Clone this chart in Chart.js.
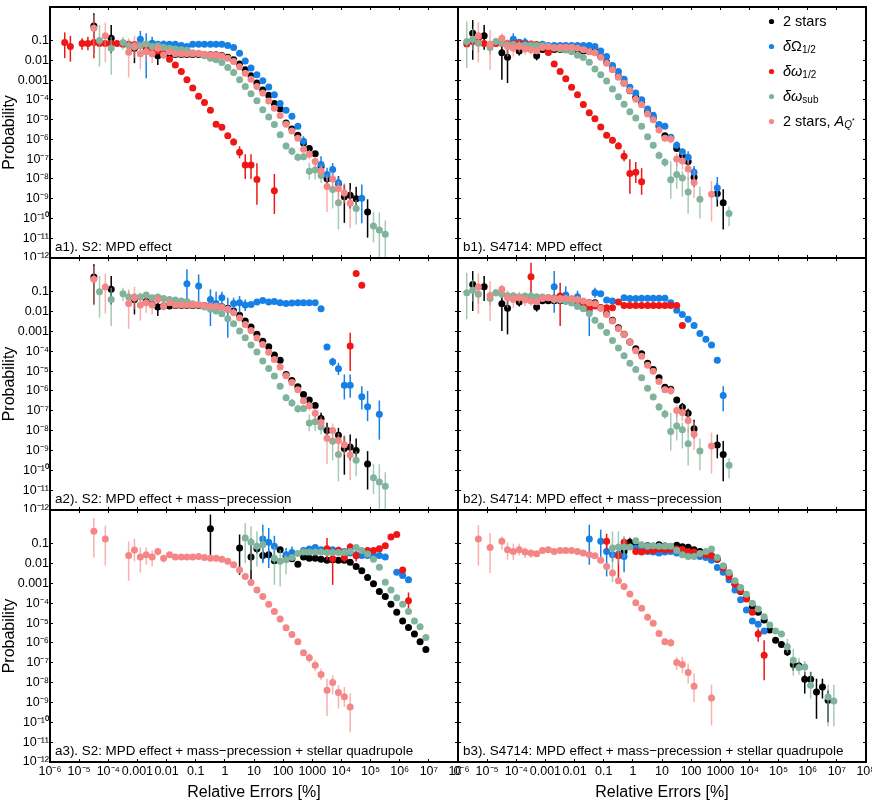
<!DOCTYPE html>
<html><head><meta charset="utf-8">
<script src="https://cdn.jsdelivr.net/npm/chart.js@4/dist/chart.umd.min.js"></script>
<style>
html,body{margin:0;padding:0;background:#fff;}
#wrap{position:relative;width:872px;height:802px;overflow:hidden;background:#fff;}
#wrap canvas{position:absolute;}
</style></head><body><div id="wrap"></div>
<script>
// ---------- axis ticks ----------
const X_TICKS = [1e-6,1e-5,1e-4,1e-3,0.01,0.1,1,10,100,1000,1e4,1e5,1e6,1e7,1e8];
const X_LABELS = ['10⁻⁶','10⁻⁵','10⁻⁴','0.001','0.01','0.1','1','10','100','1000','10⁴','10⁵','10⁶','10⁷','10⁸'];
const Y_TICKS = [1e-12,1e-11,1e-10,1e-9,1e-8,1e-7,1e-6,1e-5,1e-4,1e-3,0.01,0.1];
const Y_LABELS = ['10⁻¹²','10⁻¹¹','10⁻¹⁰','10⁻⁹','10⁻⁸','10⁻⁷','10⁻⁶','10⁻⁵','10⁻⁴','0.001','0.01','0.1'];
const SERIES_NAMES = ['2 stars','δΩ1/2','δω1/2','δωsub','2 stars, AQ*'];

// ---------- data: [x, y, errLow, errHigh] ----------
const pinkA = [
[3.2e-5,0.42,0.0204,2.0],[7.9e-5,0.174,7.9e-3,0.81],[5.0e-4,0.0257,1.35e-3,0.132],[7.9e-4,0.048,0.0129,0.178],
[1.26e-3,0.0214,3.5e-3,0.065],[2.0e-3,0.0275,8.7e-3,0.065],[3.2e-3,0.0214,7.1e-3,0.045],[5.0e-3,0.041,0.0257,0.060],
[7.9e-3,0.0186,0.0112,0.027],[0.0126,0.0275],[0.02,0.0214],[0.032,0.0214],[0.05,0.0214],[0.079,0.0214],[0.126,0.0229],
[0.2,0.0204],[0.32,0.0186],[0.5,0.0186],[0.79,0.0166],[1.26,0.0129],[2.0,8.7e-3],[3.2,4.8e-3],[5.0,2.24e-3],[7.9,1.1e-3],
[12.6,4.7e-4],[20,2.2e-4],[32,8.9e-5],[50,3.8e-5],[79,1.62e-5],[126,5.9e-6],[200,2.7e-6],[320,1.15e-6],
[500,3.2e-7,2.24e-7,4.4e-7],[790,1.78e-7,1.02e-7,2.95e-7],[1260,7.6e-8,3.9e-8,1.35e-7],[2000,2.6e-8,1.32e-8,5.1e-8],
[3200,4.1e-9,2.1e-10,1.58e-8],[5000,1.0e-8,2.6e-9,2.3e-8],[7900,3.2e-9,4.9e-10,7.4e-9],[1.26e4,1.95e-9,5.9e-10,6.0e-9],
[2.0e4,5.9e-10,3.2e-11,2.8e-9]
];
const blackA = [
[3.2e-5,0.55,0.023,2.4],[1.26e-4,0.132,0.023,0.62],[7.9e-4,0.041,7.2e-3,0.079],[2.0e-3,0.032,0.02,0.045],[3.2e-3,0.023],
[5.0e-3,0.017,5.9e-3,0.034],[7.9e-3,0.019],[0.0126,0.019],[0.02,0.02],[0.032,0.02],[0.05,0.02],[0.079,0.02],[0.126,0.02],
[0.2,0.02],[0.32,0.019],[0.5,0.019],[0.79,0.0174],[1.26,0.0145],[2.0,0.0107],[3.2,6.5e-3],[5.0,3.3e-3],[7.9,1.66e-3],
[12.6,7.1e-4],[20,3.2e-4],[32,1.7e-4],[50,6.5e-5],[79,3.5e-5],[126,6.8e-6],[200,3.4e-6],[320,1.62e-6],[500,6.6e-7],
[790,3.5e-7],[1260,1.86e-7],[2000,4.1e-8,2.5e-8,7.9e-8],[3200,1.02e-8,5.4e-9,2.5e-8],[7900,5.9e-9,2.45e-9,1.38e-8],
[1.26e4,1.26e-9,6.0e-11,5.2e-9],[2.0e4,1.51e-9,3.2e-10,6.3e-9],[3.2e4,1.0e-9,2.5e-10,4.0e-9],[7.9e4,2.1e-10,1.07e-11,9.3e-10]
];
const greenA = [
[5.0e-5,0.1,4.9e-3,0.62],[1.26e-4,0.041,1.86e-3,0.158],[3.2e-4,0.079,0.034,0.158],[5.0e-4,0.054,0.028,0.107],[7.9e-4,0.054],
[1.26e-3,0.054,0.034,0.089],[2.0e-3,0.068],[3.2e-3,0.05],[5.0e-3,0.054],[7.9e-3,0.046],[0.0126,0.041],[0.02,0.038],[0.032,0.034],
[0.05,0.032],[0.079,0.0245],[0.126,0.0214],[0.2,0.017],[0.32,0.0129],[0.5,0.0107],[0.79,7.8e-3],[1.26,4.4e-3],[2.0,2.45e-3],
[3.2,1.05e-3],[5.0,4.8e-4],[7.9,2.04e-4],[12.6,9.1e-5],[20,3.2e-5],[32,1.35e-5],[50,5.6e-6],[79,1.74e-6],
[126,4.6e-7,3.2e-7,7.1e-7],[200,2.5e-7,1.58e-7,4.0e-7],[320,1.26e-7,7.9e-8,2.0e-7],[500,1.32e-7,8.9e-8,2.0e-7],
[790,2.45e-8,9.3e-9,6.6e-8],[1260,2.8e-8,9.3e-9,7.1e-8],[2000,1.51e-8,6.3e-9,3.5e-8],[5000,2.95e-9,3.2e-10,1.41e-8],
[7900,6.3e-10,2.8e-11,4.4e-9],[3.2e4,3.2e-10,5.0e-11,8.9e-10],[1.26e5,4.2e-11,6.3e-12,2.1e-10],[2.0e5,2.6e-11,3.2e-13,2.0e-10],
[3.2e5,1.58e-11,1e-13,7.9e-11]
];
const blueA1 = [
[1.26e-3,0.117,0.034,0.31],[2.0e-3,0.06,1.26e-3,0.234],[3.2e-3,0.074,0.05,0.158],[5.0e-3,0.066],[7.9e-3,0.066,0.045,0.1],
[0.0126,0.066],[0.02,0.066],[0.032,0.056],[0.05,0.05],[0.079,0.066],[0.126,0.066],[0.2,0.066],[0.32,0.066],[0.5,0.066],
[0.79,0.066],[1.26,0.056],[2.0,0.045],[3.2,0.0229],[5.0,9.3e-3],[7.9,4.1e-3],[12.6,1.86e-3],[20,9.3e-4],[32,4.5e-4],
[50,1.82e-4],[79,6.5e-5],[126,2.95e-5],[200,1.48e-5],[320,4.6e-6],[500,8.1e-7,4.5e-7,1.45e-6],[2000,5.4e-8,2.0e-8,1.41e-7],
[3200,1.7e-8,7.9e-9,3.7e-8],[5000,3.0e-8,1.41e-8,6.3e-8],[7900,6.5e-9,3.2e-9,1.26e-8],[5.0e4,1.05e-9,5.8e-11,5.2e-9]
];
const redA1 = [
[3.2e-6,0.079,0.0129,0.26],[5.0e-6,0.05,8.7e-3,0.174],[1.26e-5,0.071,0.034,0.132],[2.0e-5,0.071,0.032,0.158],
[3.2e-5,0.079,0.0129,0.35],[5.0e-5,0.071],[7.9e-5,0.071],[1.26e-4,0.071],[2.0e-4,0.071],[3.2e-4,0.066],[5.0e-4,0.066],
[7.9e-4,0.063],[1.26e-3,0.056],[2.0e-3,0.05],[3.2e-3,0.04],[5.0e-3,0.03],[7.9e-3,0.0224],[0.0126,0.0115],[0.02,5.9e-3],
[0.032,2.75e-3],[0.05,1.05e-3],[0.079,4.0e-4],[0.126,1.51e-4],[0.2,7.4e-5],[0.32,2.95e-5],[0.5,5.8e-6],[0.79,4.1e-6],
[1.26,1.55e-6],[2.0,7.4e-7,5.0e-7,1.12e-6],[3.2,2.24e-7,1.12e-7,4.5e-7],[5.0,5.0e-8,1.0e-8,1.78e-7],[7.9,5.0e-8,1.0e-8,1.78e-7],
[12.6,9.3e-9,5.0e-10,6.3e-8],[50,2.5e-9,1.7e-10,1.78e-8]
];
const blueA2 = [
[0.05,0.25,0.041,1.35],[0.126,0.195,0.034,0.74],[0.32,0.041,1.86e-3,0.132],[0.5,0.0257,0.01,0.1],[0.79,0.05,8.5e-3,0.1],
[1.26,0.0129,4.8e-4,0.05],[2.0,0.0257,7.2e-3,0.05],[3.2,0.028,8.7e-3,0.06],[5.0,0.0214,0.0107,0.041],[7.9,0.0229],
[12.6,0.030],[20,0.036],[32,0.030],[50,0.032],[79,0.028],[126,0.0257],[200,0.027],[320,0.028],[500,0.028],[790,0.028],
[1260,0.028],[2000,0.0138],[3200,1.62e-4],[5000,2.95e-5,1.78e-5,4.7e-5],[7900,1.32e-5,6.3e-6,2.6e-5],
[1.26e4,1.95e-6,3.7e-7,6.8e-6],[2.0e4,1.95e-6,4.5e-7,6.8e-6],[5.0e4,5.1e-7,1.17e-7,1.74e-6],[7.9e4,1.58e-7,3.0e-8,1e-6],
[2.0e5,6.6e-8,3.5e-9,3.3e-7]
];
const redA2 = [[2.0e4,1.82e-4,1e-5,8.5e-4],[3.2e4,0.83],[5.0e4,0.21]];
const blackA3 = [
[0.32,0.575,0.0275,2.95],[3.2,0.06,2.7e-3,0.29],[7.9,0.0214,1.23e-3,0.19],[12.6,0.056,0.032,0.112],[20,0.0257,0.0126,0.05],
[32,0.0275,0.0158,0.045],[50,0.0138,0.01,0.02],[79,0.05],[126,0.0229],[200,0.0174],[320,9.3e-3],[500,0.0214],[790,0.0186],
[1260,0.0186],[2000,0.0166],[3200,0.0145],[5000,0.0155],[7900,0.0145],[1.26e4,0.0145],[2.0e4,0.0115],[3.2e4,7.1e-3],
[5.0e4,4.3e-3],[7.9e4,2.0e-3],[1.26e5,9.5e-4],[2.0e5,3.9e-4],[3.2e5,2.2e-4],[5.0e5,8.9e-5],[7.9e5,3.5e-5],[1.26e6,1.26e-5],
[2.0e6,6.0e-6],[3.2e6,2.8e-6],[5.0e6,1.15e-6],[7.9e6,4.7e-7]
];
const blueA3 = [
[20,0.174,0.0105,0.91],[32,0.117,5.9e-3,0.62],[50,0.074,0.025,0.25],[126,0.0275,0.0155,0.06],[200,0.036,0.0186,0.072],
[500,0.045],[790,0.054],[1260,0.065],[2000,0.05],[3200,0.05],[5000,0.05],[7900,0.046],[1.26e4,0.041],[2.0e4,0.034],
[3.2e4,0.0275],[5.0e4,0.0257],[7.9e4,0.0257],[1.26e5,0.0257],[2.0e5,0.0257],[3.2e5,0.0214],[7.9e5,3.7e-3],[1.26e6,2.5e-3],
[2.0e6,1.51e-3]
];
const redA3 = [
[3200,0.056,0.0155,0.195],[5000,0.0174,8.5e-4,0.05],[7900,0.046,0.0275,0.072],[1.26e4,0.0204,0.0117,0.034],
[2.0e4,0.068,0.041,0.107],[3.2e4,0.0245,0.0126,0.041],[7.9e4,0.046],[1.26e5,0.046],[2.0e5,0.056],[3.2e5,0.079],[5.0e5,0.22],
[7.9e5,0.29],[1.26e6,4.8e-3,3.5e-3,6.3e-3],[2.0e6,1.32e-4,5.6e-5,3.5e-4]
];
const greenA3 = [
[5.0,0.195,0.0105,1.12],[7.9,0.12,4.8e-3,0.76],[12.6,0.074,7.1e-3,0.42],[20,0.089,0.02,0.42],[50,0.0186,8.5e-4,0.072],
[79,0.0129,6.9e-4,0.05],[126,0.0155,2.8e-3,0.028],[200,0.0204],[320,0.032],[500,0.038],[790,0.038],[1260,0.038],[2000,0.038],
[3200,0.036],[5000,0.036],[7900,0.036],[1.26e4,0.036],[2.0e4,0.041],[3.2e4,0.065],[5.0e4,0.045],[7.9e4,0.030],[1.26e5,0.0166],
[2.0e5,6.6e-3],[3.2e5,1.15e-3],[5.0e5,4.7e-4],[7.9e5,1.9e-4],[1.26e6,8.9e-5],[2.0e6,3.8e-5],[3.2e6,1.26e-5],[5.0e6,6.6e-6],
[7.9e6,1.9e-6]
];
const pinkB = [
[5.0e-6,0.174,7.8e-3,0.85],[1.26e-5,0.065,3.3e-3,0.35],[3.2e-5,0.132,0.05,0.234],[5.0e-5,0.05,0.0155,0.117],
[7.9e-5,0.041,0.0155,0.1],[1.26e-4,0.05,0.0257,0.1],[2.0e-4,0.038,0.019,0.065],[3.2e-4,0.034,0.019,0.05],[5.0e-4,0.031],
[7.9e-4,0.045],[1.26e-3,0.05],[2.0e-3,0.041],[3.2e-3,0.046],[5.0e-3,0.046],[7.9e-3,0.046],[0.0126,0.041],[0.02,0.034],
[0.032,0.0275],[0.05,0.0245],[0.079,0.0145],[0.126,7.1e-3],[0.2,3.3e-3],[0.32,1.38e-3],[0.5,6.9e-4],[0.79,2.95e-4],
[1.26,1.07e-4],[2.0,5.6e-5],[3.2,1.95e-5],[5.0,9.8e-6],[7.9,3.0e-6],[12.6,1.15e-6,7.9e-7,1.66e-6],[20,1.02e-6,6.3e-7,1.66e-6],
[32,1.02e-7,4.4e-8,2.0e-7],[50,8.1e-8,3.0e-8,2.0e-7],[79,3.2e-8,9.1e-9,9.1e-8],[126,6.6e-9,1.07e-9,2.9e-8],
[500,1.7e-9,6.9e-11,7.9e-9]
];
const blackB = [
[3.2e-6,0.234,0.0107,1.1],[7.9e-6,0.178,0.034,0.62],[3.2e-5,0.0245,1.05e-3,0.158],[5.0e-5,0.0145,7.1e-4,0.089],
[1.26e-4,0.030,0.0178,0.05],[3.2e-4,0.04],[5.0e-4,0.017,0.01,0.028],[7.9e-4,0.035],[1.26e-3,0.035],[2.0e-3,0.035],
[3.2e-3,0.035],[5.0e-3,0.034],[7.9e-3,0.032],[0.0126,0.032],[0.02,0.030],[0.032,0.028],[0.05,0.028],[0.079,0.0155],
[0.126,7.9e-3],[0.2,3.7e-3],[0.32,1.51e-3],[0.5,7.1e-4],[0.79,2.9e-4],[1.26,1.35e-4],[2.0,7.4e-5],[3.2,2.45e-5],[5.0,1.2e-5],
[7.9,4.6e-6],[12.6,1.55e-6],[20,1.2e-6],[32,3.5e-7,2.5e-7,5.0e-7],[50,1.51e-7,8.9e-8,2.5e-7],[79,7.6e-8,4.0e-8,1.26e-7],
[126,1.23e-8,4.0e-9,3.5e-8],[790,1.86e-9,4.0e-10,6.3e-9],[1260,6.3e-10,2.8e-11,3.0e-9]
];
const greenB = [
[2.0e-6,0.089,4.1e-3,0.91],[3.2e-6,0.117,0.032,0.4],[5.0e-6,0.074,0.025,0.178],[1.26e-5,0.045,0.02,0.1],[2.0e-5,0.089,0.056,0.141],
[3.2e-5,0.074],[5.0e-5,0.063],[7.9e-5,0.063],[1.26e-4,0.056],[2.0e-4,0.06],[3.2e-4,0.06],[5.0e-4,0.056],[7.9e-4,0.054],
[1.26e-3,0.05],[2.0e-3,0.045],[3.2e-3,0.038],[5.0e-3,0.034],[7.9e-3,0.027],[0.0126,0.018],[0.02,0.0138],[0.032,7.9e-3],
[0.05,3.7e-3],[0.079,1.86e-3],[0.126,8.9e-4],[0.2,3.5e-4],[0.32,1.45e-4],[0.5,6.0e-5],[0.79,2.5e-5],[1.26,1.2e-5],[2.0,4.6e-6],
[3.2,1.35e-6,1e-6,1.78e-6],[5.0,5.0e-7,3.5e-7,7.1e-7],[7.9,1.55e-7,1e-7,2.5e-7],[12.6,6.9e-8,4.0e-8,1.12e-7],
[20,9.1e-9,1e-9,7.9e-8],[32,1.7e-8,3.2e-9,1e-7],[50,1.12e-8,1.26e-9,2.5e-8],[79,2.2e-9,1.74e-10,1.26e-8],
[200,9.3e-10,1e-10,4.0e-9],[2000,1.78e-10,4.0e-11,4.0e-10]
];
const blueB1 = [
[7.9e-5,0.117,0.054,0.234],[1.26e-4,0.083],[2.0e-4,0.079,0.04,0.141],[5.0e-4,0.056],[7.9e-4,0.066],[1.26e-3,0.056],
[2.0e-3,0.056],[3.2e-3,0.056],[5.0e-3,0.056],[7.9e-3,0.056],[0.0126,0.056],[0.02,0.056],[0.032,0.056],[0.05,0.05],
[0.079,0.030],[0.126,0.0155],[0.2,5.5e-3],[0.32,2.75e-3],[0.5,1.12e-3],[0.79,4.3e-4],[1.26,2.2e-4],[2.0,1.02e-4],[3.2,3.5e-5],
[5.0,1.66e-5],[7.9,5.6e-6],[12.6,4.6e-6],[20,1.29e-6],[32,5.1e-7,3.5e-7,7.9e-7],[50,2.4e-7],[79,1.26e-7,6.3e-8,2.5e-7],
[126,2.2e-8,1e-8,4.5e-8],[790,3.5e-9,8.9e-10,1.26e-8]
];
const redB1 = [
[2.0e-6,0.068],[3.2e-6,0.089],[5.0e-6,0.132],[7.9e-6,0.071],[1.26e-5,0.063],[2.0e-5,0.071],[3.2e-5,0.074],[5.0e-5,0.071],
[7.9e-5,0.071],[1.26e-4,0.071],[2.0e-4,0.066],[3.2e-4,0.068],[5.0e-4,0.063],[7.9e-4,0.05],[1.26e-3,0.025],[2.0e-3,6.5e-3],
[3.2e-3,2.75e-3],[5.0e-3,1.17e-3],[7.9e-3,4.3e-4],[0.0126,1.82e-4],[0.02,5.8e-5],[0.032,2.2e-5],[0.05,1.12e-5],[0.079,4.3e-6],
[0.126,1.62e-6],[0.2,9.1e-7,6.3e-7,1.26e-6],[0.32,4.6e-7,3.2e-7,7.1e-7],[0.5,1.41e-7,7.9e-8,2.8e-7],[0.79,1.9e-8,1.78e-9,1e-7],
[1.26,2.2e-8,6.3e-9,7.1e-8],[2.0,7.2e-9,1.58e-9,3.5e-8]
];
const blueB2 = [
[2.0e-3,0.178,8.7e-3,1.1],[5.0e-3,0.068,0.032,0.19],[0.0126,0.056,0.028,0.112],[0.032,0.0115,5.8e-4,0.034],
[0.05,0.089,0.05,0.158],[0.079,0.079],[0.126,0.038],[0.2,0.034],[0.5,0.05],[0.79,0.045],[1.26,0.045],[2.0,0.047],[3.2,0.047],
[5.0,0.047],[7.9,0.047],[12.6,0.047],[20,0.028],[32,0.0115],[50,7.2e-3],[79,4.1e-3],[126,2.0e-3],[200,7.9e-4],[320,4.0e-4],
[500,2.04e-4],[790,3.5e-5],[1260,5.9e-7,9.5e-8,1.74e-6]
];
const redB2 = [
[3.2e-4,0.575,0.074,2.9],[7.9e-4,0.05],[1.26e-3,0.05],[2.0e-3,0.048],[3.2e-3,0.06,1.86e-3,0.28],[5.0e-3,0.04],[7.9e-3,0.035],
[0.0126,0.025],[0.02,0.019],[0.032,0.0155],[0.05,0.019],[0.079,0.0155],[0.126,0.0155],[0.2,0.0155],[0.32,0.030],[0.5,0.0204],
[0.79,0.0204],[1.26,0.0204],[2.0,0.0204],[3.2,0.0204],[5.0,0.0204],[7.9,0.0204],[12.6,0.0204],[20,0.0204],[32,0.0204],
[50,2.0e-3]
];
const blackB3 = [
[0.5,0.04,0.0158,0.079],[0.79,0.117,0.071,0.2],[1.26,0.079],[2.0,0.068],[3.2,0.079],[5.0,0.074],[7.9,0.089],[12.6,0.076],
[20,0.071],[32,0.083],[50,0.071],[79,0.066],[126,0.05],[200,0.04],[320,0.032],[500,0.025],[790,0.0166],[1260,7.1e-3],
[2000,2.7e-3],[3200,9.1e-4],[5000,3.9e-4],[7900,1.78e-4],[1.26e4,6.8e-5],[2.0e4,3.5e-5],[3.2e4,1.45e-5],[5.0e4,4.5e-6],
[7.9e4,1.38e-6,1e-6,2.0e-6],[1.26e5,8.3e-7,5.6e-7,1.26e-6],[2.0e5,3.5e-7,2.24e-7,5.6e-7],[3.2e5,8.1e-8,4.0e-8,1.58e-7],
[5.0e5,6.9e-8,4.0e-8,1.12e-7],[7.9e5,1.48e-8,2.8e-9,3.5e-8],[1.26e6,1.48e-8,6.3e-9,3.5e-8],[2.0e6,3.4e-9,1.5e-10,1.58e-8],
[3.2e6,6.0e-9,1.58e-9,1.58e-8],[5.0e6,1.29e-9,1e-10,4.0e-9]
];
const blueB3 = [
[0.032,0.174,8.7e-3,0.91],[0.079,0.132,0.0186,0.51],[0.126,0.041,2.24e-3,0.132],[0.2,0.0275,0.0126,0.06],[0.32,0.030],
[0.5,0.0229,3.7e-3,0.06],[1.26,0.06],[2.0,0.05],[3.2,0.041],[5.0,0.038],[7.9,0.034],[12.6,0.038],[20,0.041],[32,0.034],
[50,0.032],[79,0.0275],[126,0.0257],[200,0.0229],[320,0.0204],[500,0.0145],[790,6.3e-3],[1260,3.7e-3],[2000,1.51e-3],
[3200,4.7e-4],[5000,1.48e-4],[7900,4.6e-5],[1.26e4,1.26e-5],[2.0e4,8.7e-6],[3.2e4,4.0e-6]
];
const redB3 = [
[0.126,0.132,0.05,0.32],[0.32,0.0245,1.51e-3,0.089],[0.5,0.117,0.063,0.2],[1.26,0.041],[2.0,0.038],[3.2,0.045],[5.0,0.046],
[7.9,0.054],[12.6,0.05],[20,0.052],[32,0.054],[50,0.051],[79,0.041],[126,0.038],[200,0.031],[320,0.0275],[500,0.0245],
[790,0.0174],[1260,5.9e-3],[2000,2.24e-3],[3200,9.1e-4],[5000,4.2e-4],[7900,1.66e-4],[1.26e4,3.5e-5],
[2.0e4,2.8e-6,1.15e-6,5.4e-6],[3.2e4,2.4e-7,1.32e-8,1.38e-6]
];
const greenB3 = [
[0.2,0.06,1.15e-3,0.42],[0.32,0.068,0.01,0.42],[0.5,0.068,0.02,0.25],[0.79,0.068],[1.26,0.141],[2.0,0.089],[3.2,0.074],
[5.0,0.079],[7.9,0.074],[12.6,0.074],[20,0.074],[32,0.046],[50,0.0275],[79,0.0229],[126,0.0229],[200,0.032],[320,0.041],
[500,0.054],[790,0.0204],[1260,7.8e-3],[2000,3.5e-3],[3200,1.35e-3],[5000,6.2e-4],[7900,2.8e-4],[1.26e4,1e-4],[2.0e4,5.1e-5],
[3.2e4,2.1e-5],[5.0e4,7.9e-6],[7.9e4,4.0e-6],[1.26e5,2.8e-6],[2.0e5,6.5e-7,3.2e-7,1.58e-6],[3.2e5,1.35e-7,2.24e-8,5.0e-7],
[5.0e5,5.8e-8,2.5e-8,1.78e-7],[7.9e5,6.2e-8,2.5e-8,1.26e-7],[1.26e6,7.4e-9,1.58e-9,3.5e-8],[5.0e6,1.9e-9,6.3e-11,7.9e-9],
[7.9e6,1.17e-9,6.3e-11,7.9e-9]
];

// ---------- styling ----------
const FAM = "'Liberation Sans', Arial, Helvetica, sans-serif";
const COLORS = ['#000000','#1680e6','#ef1616','#80b39b','#f58686'];
const ERR_COLORS = ['#000000','#1680e6','#ef1616','rgba(128,179,155,0.7)','rgba(245,134,134,0.65)'];
Chart.defaults.font.family = FAM;
Chart.defaults.color = '#000';

const PANELS = [
  {row:0,col:0,label:'a1). S2: MPD effect',series:[blackA,blueA1,redA1,greenA,pinkA]},
  {row:1,col:0,label:'a2). S2: MPD effect + mass\u2212precession',series:[blackA,blueA2,redA2,greenA,pinkA]},
  {row:2,col:0,label:'a3). S2: MPD effect + mass\u2212precession + stellar quadrupole',series:[blackA3,blueA3,redA3,greenA3,pinkA]},
  {row:0,col:1,label:'b1). S4714: MPD effect',series:[blackB,blueB1,redB1,greenB,pinkB],legend:true},
  {row:1,col:1,label:'b2). S4714: MPD effect + mass\u2212precession',series:[blackB,blueB2,redB2,greenB,pinkB]},
  {row:2,col:1,label:'b3). S4714: MPD effect + mass\u2212precession + stellar quadrupole',series:[blackB3,blueB3,redB3,greenB3,pinkB]}
];
const ROW_TOP = [7,258,510], ROW_BOT = [258,510,762];

const LEGEND_PARTS = [
  [['2 stars','n']],
  [['δ','i'],['Ω','n'],['1/2','s']],
  [['δω','i'],['1/2','s']],
  [['δω','i'],['sub','s']],
  [['2 stars, ','n'],['A','i'],['Q','si'],['*','ss']]
];

const errorBarPlugin = {
  id:'errorBars',
  beforeDatasetDraw(chart, args){
    const ds = chart.data.datasets[args.index];
    const xs = chart.scales.x, ys = chart.scales.y, a = chart.chartArea, ctx = chart.ctx;
    ctx.save();
    ctx.beginPath(); ctx.rect(a.left, a.top, a.right-a.left, a.bottom-a.top); ctx.clip();
    ctx.strokeStyle = ds.errColor; ctx.lineWidth = 1.5;
    ds.data.forEach(p => {
      if (p.lo == null || p.hi == null) return;
      const x = xs.getPixelForValue(p.x);
      ctx.beginPath();
      ctx.moveTo(x, ys.getPixelForValue(p.lo));
      ctx.lineTo(x, ys.getPixelForValue(p.hi));
      ctx.stroke();
    });
    ctx.restore();
  }
};

const decoPlugin = {
  id:'deco',
  afterDraw(chart, args, opts){
    const ctx = chart.ctx, a = chart.chartArea;
    ctx.save();
    ctx.fillStyle = '#000';
    ctx.font = '13.4px ' + FAM;
    ctx.textBaseline = 'alphabetic'; ctx.textAlign = 'left';
    ctx.fillText(opts.label, a.left + 5, a.bottom - 7);
    if (opts.legend) {
      const mx = a.left + 313.5, tx = a.left + 325;
      for (let i = 0; i < LEGEND_PARTS.length; i++) {
        const y = a.top + 14.5 + 25 * i;
        ctx.fillStyle = COLORS[i];
        ctx.beginPath(); ctx.arc(mx, y, 2.6, 0, Math.PI*2); ctx.fill();
        ctx.fillStyle = '#000'; ctx.textBaseline = 'middle';
        let x = tx;
        for (const [t, st] of LEGEND_PARTS[i]) {
          let dy = 0;
          if (st === 'n') ctx.font = '14.5px ' + FAM;
          else if (st === 'i') ctx.font = 'italic 14.5px ' + FAM;
          else if (st === 's') { ctx.font = '10px ' + FAM; dy = 4; }
          else if (st === 'si') { ctx.font = 'italic 10px ' + FAM; dy = 4; }
          else { ctx.font = '7px ' + FAM; dy = 0; }
          ctx.fillText(t, x, y + dy);
          x += ctx.measureText(t).width;
        }
      }
    }
    ctx.restore();
  }
};

const wrap = document.getElementById('wrap');

function tickAxis(kind, pos, ticksArr, labelsArr, showLabels, size, extra){
  const isX = kind === 'x';
  const base = {
    type:'logarithmic', position:pos, bounds:'data',
    min: isX ? 1e-6 : 1e-12, max: isX ? 1e8 : 5,
    afterBuildTicks: s => { s.ticks = ticksArr.map(v => ({value:v})); },
    afterFit: s => {
      if (isX) { s.height = size; s.paddingLeft = 0; s.paddingRight = 0; }
      else { s.width = size; s.paddingTop = 0; s.paddingBottom = 0; }
    },
    ticks: {
      autoSkip:false, maxRotation:0, minRotation:0, padding: isX ? 5 : 4,
      font:{size:12.5}, color:'#000',
      callback: (v, i) => showLabels ? labelsArr[i] : ''
    },
    grid: {display:true, drawOnChartArea:false, drawTicks:true, tickLength:-3, color:'#000', lineWidth:1},
    border: {display:true, color:'#000', width:2}
  };
  return Object.assign(base, extra || {});
}

PANELS.forEach(p => {
  const left = p.col === 0;
  const bottomRow = p.row === 2;
  const areaTop = ROW_TOP[p.row], areaBot = ROW_BOT[p.row];
  const cLeft = left ? 0 : 452;
  const cWidth = left ? 461 : 420;
  const yW = left ? 50 : 6;
  const padR = left ? 3 : 6;
  const xH = bottomRow ? 40 : 0;
  const padB = bottomRow ? 0 : 2;
  const cTop = areaTop - 2;
  const cHeight = 2 + (areaBot - areaTop) + xH + padB;

  const cv = document.createElement('canvas');
  cv.width = cWidth; cv.height = cHeight;
  cv.style.left = cLeft + 'px'; cv.style.top = cTop + 'px';
  cv.style.width = cWidth + 'px'; cv.style.height = cHeight + 'px';
  wrap.appendChild(cv);

  const datasets = p.series.map((arr, k) => ({
    label: SERIES_NAMES[k],
    data: arr.map(r => ({x:r[0], y:r[1], lo: r.length > 2 ? r[2] : null, hi: r.length > 3 ? r[3] : null})),
    backgroundColor: COLORS[k], borderColor: COLORS[k], borderWidth: 0,
    pointRadius: 3.5, pointHoverRadius: 3.5, showLine: false,
    order: 5 - k, errColor: ERR_COLORS[k], xAxisID:'x', yAxisID:'y'
  }));

  new Chart(cv, {
    type:'scatter',
    data:{datasets},
    options:{
      responsive:false, maintainAspectRatio:false, devicePixelRatio:1, animation:false, events:[],
      layout:{autoPadding:false, padding:{top:2, left:0, right:padR, bottom:padB}},
      plugins:{legend:{display:false}, tooltip:{enabled:false}, deco:{label:p.label, legend:!!p.legend}},
      scales:{
        x: tickAxis('x','bottom',X_TICKS,X_LABELS,bottomRow,xH,{
          title:{display:bottomRow, text:'Relative Errors [%]', font:{size:16}, color:'#000', padding:{top:0,bottom:0}}
        }),
        x2: tickAxis('x','top',X_TICKS,X_LABELS,false,0),
        y: tickAxis('y','left',Y_TICKS,Y_LABELS,left,yW,{
          title:{display:left, text:'Probability', font:{size:16}, color:'#000', padding:0}
        }),
        y2: tickAxis('y','right',Y_TICKS,Y_LABELS,false,0)
      }
    },
    plugins:[errorBarPlugin, decoPlugin]
  });
});
</script>
</body></html>
